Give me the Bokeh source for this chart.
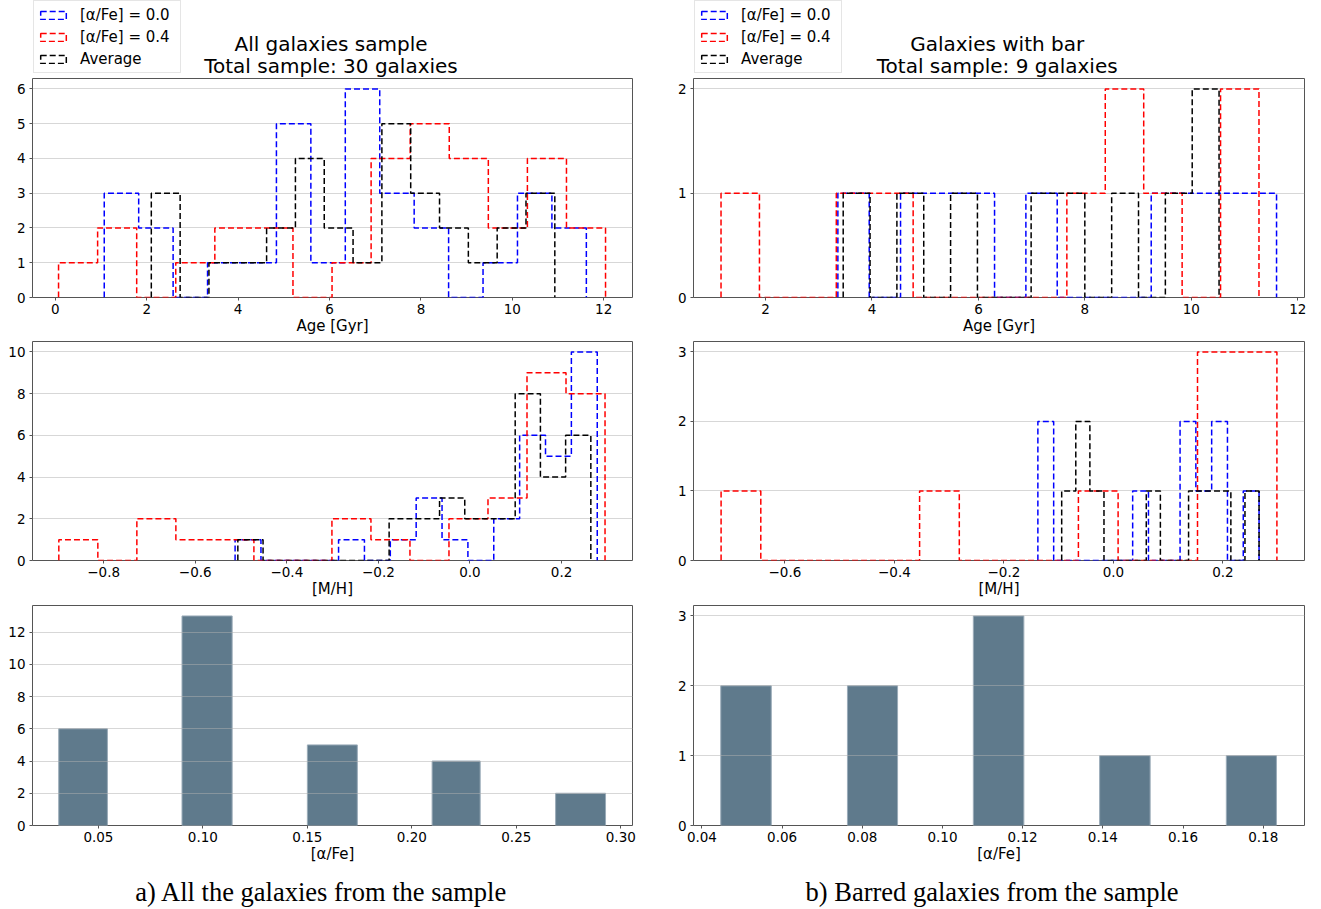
import numpy as np
from bokeh.plotting import figure
from bokeh.models import Legend, LegendItem, Label, FixedTicker, Range1d
from bokeh.layouts import row, column
from bokeh.embed import file_html
from bokeh.resources import INLINE

# ---------------- data ----------------
series_names = ["[α/Fe] = 0.0", "[α/Fe] = 0.4", "Average"]
series_colors = ["blue", "red", "black"]

# Age histograms, all galaxies (bin range + 14 counts)
age_all_blue_range = (1.07, 11.62)
age_all_blue_counts = [3, 2, 0, 1, 1, 5, 1, 6, 3, 2, 0, 1, 3, 2]
age_all_red_range = (0.07, 12.04)
age_all_red_counts = [1, 2, 0, 1, 2, 2, 0, 1, 4, 5, 4, 2, 4, 2]
age_all_avg_range = (2.10, 10.93)
age_all_avg_counts = [3, 0, 1, 1, 2, 4, 2, 1, 5, 3, 2, 1, 2, 3]

# [M/H] histograms, all galaxies
mh_all_blue_range = (-0.513, 0.278)
mh_all_blue_counts = [1, 0, 0, 0, 1, 0, 1, 3, 1, 0, 2, 6, 5, 10]
mh_all_red_range = (-0.898, 0.295)
mh_all_red_counts = [1, 0, 2, 1, 1, 0, 0, 2, 1, 0, 2, 3, 9, 8]
mh_all_avg_range = (-0.507, 0.264)
mh_all_avg_counts = [1, 0, 0, 0, 0, 0, 2, 2, 3, 2, 2, 8, 4, 6]

# Age histograms, barred galaxies
age_bar_blue_range = (3.36, 11.60)
age_bar_blue_counts = [1, 0, 1, 1, 1, 0, 1, 0, 0, 0, 1, 1, 1, 1]
age_bar_red_range = (1.165, 11.27)
age_bar_red_counts = [1, 0, 0, 1, 1, 0, 0, 0, 0, 1, 2, 1, 0, 2]
age_bar_avg_range = (3.46, 10.52)
age_bar_avg_counts = [1, 0, 1, 0, 1, 0, 0, 1, 1, 0, 1, 0, 1, 2]

# [M/H] histograms, barred galaxies
mh_bar_blue_range = (-0.138, 0.266)
mh_bar_blue_counts = [2, 0, 0, 0, 0, 0, 1, 0, 0, 2, 1, 2, 0, 1]
mh_bar_red_range = (-0.7166, 0.2986)
mh_bar_red_counts = [1, 0, 0, 0, 0, 1, 0, 0, 0, 1, 0, 0, 3, 3]
mh_bar_avg_range = (-0.0945, 0.266)
mh_bar_avg_counts = [1, 2, 1, 0, 0, 0, 1, 0, 0, 1, 1, 1, 0, 1]

# [alpha/Fe] bar histograms
alpha_all_left = [0.0310, 0.0900, 0.1500, 0.2097, 0.2688]
alpha_all_right = [0.0543, 0.1140, 0.1739, 0.2327, 0.2927]
alpha_all_counts = [6, 13, 5, 4, 2]
alpha_bar_left = [0.0447, 0.0763, 0.1077, 0.1392, 0.1708]
alpha_bar_right = [0.0573, 0.0888, 0.1203, 0.1518, 0.1833]
alpha_bar_counts = [2, 2, 3, 1, 1]

# ticks
age_all_ticks = [0, 2, 4, 6, 8, 10, 12]
mh_all_ticks = [-0.8, -0.6, -0.4, -0.2, 0.0, 0.2]
alpha_all_ticks = [0.05, 0.10, 0.15, 0.20, 0.25, 0.30]
age_bar_ticks = [2, 4, 6, 8, 10, 12]
mh_bar_ticks = [-0.6, -0.4, -0.2, 0.0, 0.2]
alpha_bar_ticks = [0.04, 0.06, 0.08, 0.10, 0.12, 0.14, 0.16, 0.18]

age_all_yticks = [0, 1, 2, 3, 4, 5, 6]
mh_all_yticks = [0, 2, 4, 6, 8, 10]
alpha_all_yticks = [0, 2, 4, 6, 8, 10, 12]
age_bar_yticks = [0, 1, 2]
mh_bar_yticks = [0, 1, 2, 3]
alpha_bar_yticks = [0, 1, 2, 3]

titles_all = ["All galaxies sample", "Total sample: 30 galaxies"]
titles_bar = ["Galaxies with bar", "Total sample: 9 galaxies"]
caption_all = "a) All the galaxies from the sample"
caption_bar = "b) Barred galaxies from the sample"

FONT = "DejaVu Sans"
DASH = "6 3"
BAR_COLOR = "#5f7a8c"


def fmt_int(t):
    return str(int(t))


def fmt1(t):
    return f"{t:.1f}".replace("-", "\u2212")


def fmt2(t):
    return f"{t:.2f}".replace("-", "\u2212")


def step_xy(rng, counts):
    edges = np.linspace(rng[0], rng[1], len(counts) + 1)
    xs = [edges[0]]
    ys = [0]
    for i, c in enumerate(counts):
        xs += [edges[i], edges[i + 1]]
        ys += [c, c]
    xs.append(edges[-1])
    ys.append(0)
    return xs, ys


def blank_fig(w, h, bl, br):
    p = figure(width=w, height=h, x_range=Range1d(0, w), y_range=Range1d(0, h),
               x_axis_type=None, y_axis_type=None, output_backend="svg",
               toolbar_location=None, min_border_left=bl, min_border_right=br,
               min_border_top=0, min_border_bottom=0)
    p.outline_line_color = None
    p.background_fill_color = "white"
    p.border_fill_color = "white"
    return p


def make_fig(w, bl, br, bt, fh, bb, xr, yr, xticks, xfmt, yticks, xlabel, grid_over=False):
    p = figure(width=w, height=bt + fh + bb, x_range=Range1d(*xr), y_range=Range1d(*yr),
               output_backend="svg", toolbar_location=None,
               min_border_left=bl, min_border_right=br, min_border_top=bt, min_border_bottom=bb)
    p.background_fill_color = "white"
    p.border_fill_color = "white"
    p.outline_line_color = "#555555"
    p.outline_line_width = 1
    p.xgrid.visible = False
    p.ygrid.ticker = FixedTicker(ticks=yticks)
    p.ygrid.grid_line_color = "#b0b0b0"
    p.ygrid.grid_line_alpha = 0.5
    p.ygrid.grid_line_width = 1
    if grid_over:
        p.ygrid.level = "overlay"
    for ax, ticks, f in ((p.xaxis[0], xticks, xfmt), (p.yaxis[0], yticks, fmt_int)):
        ax.ticker = FixedTicker(ticks=ticks)
        ax.major_label_overrides = {t: f(t) for t in ticks}
        ax.axis_line_color = None
        ax.major_tick_in = 0
        ax.major_tick_out = 3
        ax.minor_tick_in = 0
        ax.minor_tick_out = 0
        ax.major_tick_line_color = "#555555"
        ax.major_label_standoff = 3
        ax.major_label_text_font = FONT
        ax.major_label_text_font_size = "13.5px"
        ax.major_label_text_color = "black"
    p.yaxis.major_label_standoff = 4
    p.xaxis.axis_label = xlabel
    p.xaxis.axis_label_text_font = FONT
    p.xaxis.axis_label_text_font_size = "15px"
    p.xaxis.axis_label_text_font_style = "normal"
    p.xaxis.axis_label_text_color = "black"
    p.xaxis.axis_label_standoff = 0
    return p


def add_steps(p, ranges, counts_list):
    for color, rng, counts in zip(series_colors, ranges, counts_list):
        xs, ys = step_xy(rng, counts)
        p.line(xs, ys, line_color=color, line_dash=DASH, line_width=1.5)


def make_header(w, h, bl, br, legend_x, lines, title_cx):
    p = blank_fig(w, h, bl, br)
    items = []
    for name, color in zip(series_names, series_colors):
        # legend-only swatch renderer (NaN geometry: nothing is drawn in the frame)
        q = p.quad(left=[np.nan], right=[np.nan], top=[np.nan], bottom=[np.nan],
                   fill_color=None, line_color=color, line_dash=DASH, line_width=1.5)
        items.append(LegendItem(label=name, renderers=[q]))
    # location = bottom-left corner of the legend box, measured from frame bottom-left
    lg = Legend(items=items, location=(legend_x, 4))
    lg.glyph_width = 32
    lg.glyph_height = 10
    lg.label_height = 21
    lg.label_width = 97
    lg.label_standoff = 11
    lg.padding = 3
    lg.spacing = 1
    lg.margin = 0
    lg.label_text_font = FONT
    lg.label_text_font_size = "15px"
    lg.label_text_color = "black"
    lg.label_text_baseline = "middle"
    lg.border_line_color = "#cccccc"
    lg.border_line_width = 1
    lg.background_fill_color = "white"
    lg.background_fill_alpha = 0.8
    p.add_layout(lg)
    p.add_layout(Label(x=title_cx, y=33.5, x_units="screen", y_units="screen", text=lines[0],
                       text_align="center", text_baseline="alphabetic", text_font=FONT,
                       text_font_size="20px", text_color="black"))
    p.add_layout(Label(x=title_cx, y=11.5, x_units="screen", y_units="screen", text=lines[1],
                       text_align="center", text_baseline="alphabetic", text_font=FONT,
                       text_font_size="20px", text_color="black"))
    return p


def make_caption(w, h, bl, br, text, cx):
    p = blank_fig(w, h, bl, br)
    p.add_layout(Label(x=cx, y=16, x_units="screen", y_units="screen", text=text,
                       text_align="center", text_baseline="alphabetic",
                       text_font="Liberation Serif", text_font_size="26.5px", text_color="black"))
    return p


# layout geometry (pixels)
HEAD_H = 77
CAP_H = 40
LW, LBL, LBR = 664, 32, 32
RW, RBL, RBR = 649, 29, 9

# -------- left column --------
h_l = make_header(LW, HEAD_H, LBL, LBR, 1, titles_all, 298.5)

f_tl = make_fig(LW, LBL, LBR, 1, 219, 42, (-0.5, 12.63), (0, 6.3), age_all_ticks, fmt_int,
                age_all_yticks, "Age [Gyr]")
add_steps(f_tl, [age_all_blue_range, age_all_red_range, age_all_avg_range],
          [age_all_blue_counts, age_all_red_counts, age_all_avg_counts])

f_ml = make_fig(LW, LBL, LBR, 2, 219, 43, (-0.9555, 0.355), (0, 10.5), mh_all_ticks, fmt1,
                mh_all_yticks, "[M/H]")
add_steps(f_ml, [mh_all_blue_range, mh_all_red_range, mh_all_avg_range],
          [mh_all_blue_counts, mh_all_red_counts, mh_all_avg_counts])

f_bl = make_fig(LW, LBL, LBR, 2, 220, 42, (0.01845, 0.3056), (0, 13.65), alpha_all_ticks, fmt2,
                alpha_all_yticks, "[α/Fe]", grid_over=True)
f_bl.quad(left=alpha_all_left, right=alpha_all_right, bottom=0, top=alpha_all_counts,
          fill_color=BAR_COLOR, line_color="#9aabb8", line_width=1)

c_l = make_caption(LW, CAP_H, LBL, LBR, caption_all, 289)

# -------- right column --------
h_r = make_header(RW, HEAD_H, RBL, RBR, 1, titles_bar, 303.7)

f_tr = make_fig(RW, RBL, RBR, 1, 219, 42, (0.648, 12.125), (0, 2.1), age_bar_ticks, fmt_int,
                age_bar_yticks, "Age [Gyr]")
add_steps(f_tr, [age_bar_blue_range, age_bar_red_range, age_bar_avg_range],
          [age_bar_blue_counts, age_bar_red_counts, age_bar_avg_counts])

f_mr = make_fig(RW, RBL, RBR, 2, 219, 43, (-0.767, 0.349), (0, 3.15), mh_bar_ticks, fmt1,
                mh_bar_yticks, "[M/H]")
add_steps(f_mr, [mh_bar_blue_range, mh_bar_red_range, mh_bar_avg_range],
          [mh_bar_blue_counts, mh_bar_red_counts, mh_bar_avg_counts])

f_br = make_fig(RW, RBL, RBR, 2, 220, 42, (0.0379, 0.1903), (0, 3.15), alpha_bar_ticks, fmt2,
                alpha_bar_yticks, "[α/Fe]", grid_over=True)
f_br.quad(left=alpha_bar_left, right=alpha_bar_right, bottom=0, top=alpha_bar_counts,
          fill_color=BAR_COLOR, line_color="#9aabb8", line_width=1)

c_r = make_caption(RW, CAP_H, RBL, RBR, caption_bar, 298.6)

layout = row(column(h_l, f_tl, f_ml, f_bl, c_l), column(h_r, f_tr, f_mr, f_br, c_r))

with open("out.html", "w") as fh_out:
    fh_out.write(file_html(layout, INLINE))
